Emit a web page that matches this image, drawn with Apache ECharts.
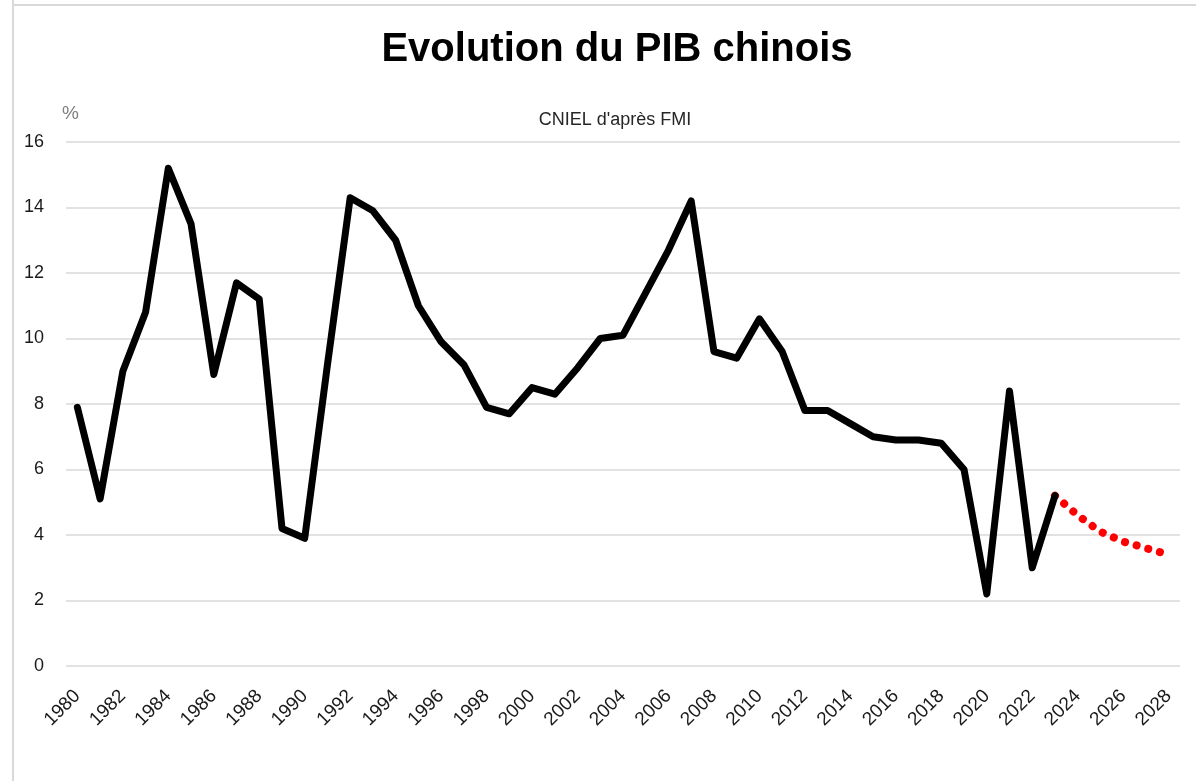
<!DOCTYPE html>
<html>
<head>
<meta charset="utf-8">
<script src="https://cdn.jsdelivr.net/npm/echarts@6/dist/echarts.min.js"></script>
<style>
html,body{margin:0;padding:0;background:#fff;}
#chart{width:1196px;height:781px;}
</style>
</head>
<body>
<div id="chart"></div>
<script>
const years = [];
for (let y = 1980; y <= 2028; y++) years.push(String(y));

// Observed growth (%), 1980-2023
const observed = [7.9, 5.1, 9.0, 10.8, 15.2, 13.5, 8.9, 11.7, 11.2, 4.2,
  3.9, 9.2, 14.3, 13.9, 13.0, 11.0, 9.9, 9.2, 7.9, 7.7,
  8.5, 8.3, 9.1, 10.0, 10.1, 11.4, 12.7, 14.2, 9.6, 9.4,
  10.6, 9.6, 7.8, 7.8, 7.4, 7.0, 6.9, 6.9, 6.8, 6.0,
  2.2, 8.4, 3.0, 5.2];
// IMF forecast (%), 2023-2028
const forecastYears = ['2023', '2024', '2025', '2026', '2027', '2028'];
const forecast = [5.2, 4.6, 4.1, 3.8, 3.6, 3.4];

const titleText = 'Evolution du PIB chinois';
const subtitleText = "CNIEL d'après FMI";
const unitText = '%';

const obsData = years.map((y, i) => i < observed.length ? observed[i] : null);
const fcData = years.map(y => {
  const k = forecastYears.indexOf(y);
  return k >= 0 ? forecast[k] : null;
});

const chart = echarts.init(document.getElementById('chart'), null, {renderer: 'canvas'});
chart.setOption({
  backgroundColor: '#ffffff',
  animation: false,
  title: [{
    text: titleText,
    left: 612, top: 25, textAlign: 'center',
    textStyle: {fontFamily: 'Liberation Sans, sans-serif', fontWeight: 'bold', fontSize: 40, color: '#000'}
  }, {
    text: subtitleText,
    left: 610, top: 106, textAlign: 'center',
    textStyle: {fontFamily: 'Liberation Sans, sans-serif', fontWeight: 'normal', fontSize: 18, color: '#262626'}
  }, {
    text: unitText,
    left: 57, top: 99,
    textStyle: {fontFamily: 'Liberation Sans, sans-serif', fontWeight: 'normal', fontSize: 19, color: '#7f7f7f'}
  }],
  graphic: [{
    type: 'line', shape: {x1: 13, y1: 0, x2: 13, y2: 781},
    style: {stroke: '#d9d9d9', lineWidth: 2}, silent: true
  }, {
    type: 'line', shape: {x1: 12, y1: 5, x2: 1196, y2: 5},
    style: {stroke: '#d9d9d9', lineWidth: 2}, silent: true
  }],
  grid: {left: 66, right: 16, top: 142, bottom: 115},
  xAxis: {
    type: 'category',
    data: years,
    boundaryGap: true,
    axisLine: {show: false},
    axisTick: {show: false},
    axisLabel: {
      interval: 1, rotate: 45, margin: 27,
      fontFamily: 'Liberation Sans, sans-serif', fontSize: 19, color: '#1a1a1a'
    }
  },
  yAxis: {
    type: 'value', min: 0, max: 16, interval: 2,
    axisLine: {show: false}, axisTick: {show: false},
    axisLabel: {margin: 22, fontFamily: 'Liberation Sans, sans-serif', fontSize: 18, color: '#1a1a1a'},
    splitLine: {lineStyle: {color: '#d9d9d9', width: 1.5}}
  },
  series: [{
    name: 'Prévision',
    type: 'line',
    data: fcData,
    showSymbol: false,
    z: 2,
    lineStyle: {color: '#ff0000', width: 8, type: [0.1, 12], cap: 'round'}
  }, {
    name: 'PIB',
    type: 'line',
    data: obsData,
    showSymbol: false,
    z: 3,
    lineStyle: {color: '#000000', width: 7, join: 'round', cap: 'round'}
  }]
});
</script>
</body>
</html>
